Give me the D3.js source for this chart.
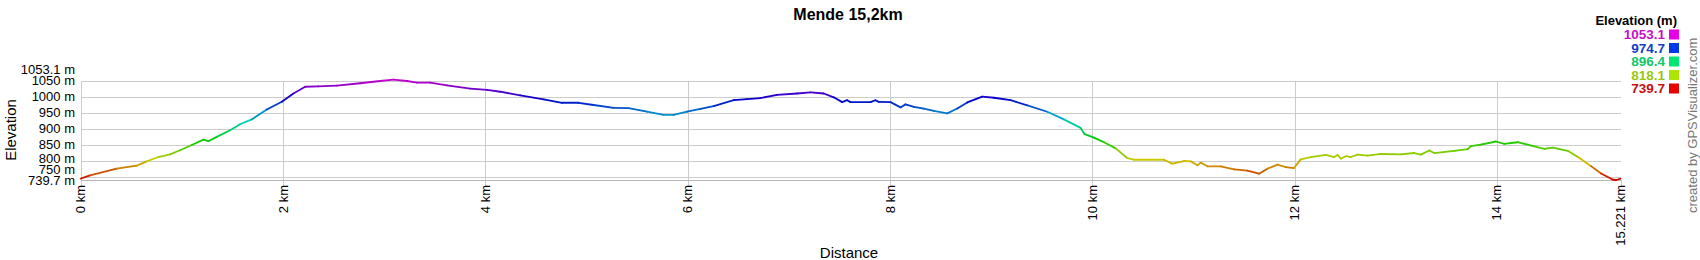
<!DOCTYPE html>
<html>
<head>
<meta charset="utf-8">
<script src="https://cdn.jsdelivr.net/npm/d3@7"></script>
<style>
  body { margin: 0; background: #fff; }
  svg { display: block; font-family: "Liberation Sans", Arial, sans-serif; }
  .grid line { stroke: #cccccc; stroke-width: 1; shape-rendering: crispEdges; }
  .tick-label { fill: #000; font-size: 13px; }
</style>
</head>
<body>
<svg id="chart" width="1700" height="260"></svg>
<script>
'use strict';

// track profile: distance (km) and elevation (m)
let distKm = [
  0.000, 0.092, 0.356, 0.554, 0.653, 0.768, 0.883, 0.982, 1.098, 1.213,
  1.262, 1.345, 1.477, 1.576, 1.691, 1.840, 1.988, 2.103, 2.219, 2.350,
  2.532, 2.763, 2.961, 3.092, 3.225, 3.323, 3.455, 3.620, 3.851, 4.016,
  4.147, 4.345, 4.576, 4.758, 4.922, 5.070, 5.268, 5.416, 5.598, 5.763,
  5.861, 5.994, 6.125, 6.257, 6.455, 6.588, 6.719, 6.884, 7.082, 7.214,
  7.345, 7.444, 7.527, 7.577, 7.609, 7.807, 7.856, 7.889, 8.005, 8.104,
  8.153, 8.236, 8.334, 8.433, 8.566, 8.665, 8.764, 8.912, 9.027, 9.192,
  9.357, 9.555, 9.719, 9.884, 9.924, 10.016, 10.115, 10.231, 10.346, 10.412,
  10.708, 10.791, 10.906, 10.972, 11.039, 11.071, 11.138, 11.269, 11.401, 11.533,
  11.648, 11.731, 11.830, 11.912, 11.994, 12.060, 12.159, 12.308, 12.390, 12.424,
  12.456, 12.506, 12.555, 12.622, 12.721, 12.852, 13.050, 13.181, 13.248, 13.330,
  13.379, 13.577, 13.710, 13.742, 13.841, 13.990, 14.072, 14.204, 14.369, 14.468,
  14.551, 14.699, 14.798, 14.930, 15.029, 15.145, 15.178, 15.221
];
let elevM = [
  744.0, 754.0, 775.0, 784.5, 798.0, 811.5, 820.0, 832.6, 849.0, 866.0,
  861.0, 874.5, 895.0, 914.0, 929.0, 960.0, 984.0, 1010.0, 1031.0, 1032.4,
  1034.3, 1042.0, 1049.0, 1053.1, 1049.0, 1044.0, 1044.0, 1035.6, 1025.0, 1021.0,
  1015.5, 1004.0, 991.6, 981.0, 981.0, 974.0, 965.0, 964.0, 953.0, 943.0,
  943.0, 953.0, 962.0, 970.6, 989.0, 992.5, 995.7, 1006.0, 1010.0, 1013.6,
  1010.0, 998.0, 983.0, 989.0, 983.0, 983.0, 989.0, 984.0, 983.0, 966.5,
  976.0, 968.4, 963.0, 956.0, 947.7, 963.0, 982.0, 1000.0, 996.7, 989.0,
  973.0, 953.0, 929.0, 902.5, 883.0, 872.0, 857.5, 838.6, 808.0, 803.0,
  803.0, 790.8, 799.0, 798.0, 785.5, 794.0, 782.4, 782.4, 773.0, 769.0,
  759.4, 775.0, 787.7, 780.0, 777.0, 804.0, 811.5, 818.0, 811.5, 818.0,
  806.6, 814.0, 811.5, 819.0, 816.0, 821.0, 820.0, 824.0, 819.0, 832.0,
  824.0, 831.0, 836.0, 845.6, 850.0, 860.0, 852.6, 857.7, 845.0, 837.0,
  841.0, 831.0, 812.0, 783.0, 760.0, 741.0, 739.7, 744.0
];

let xTickValues = [0, 2, 4, 6, 8, 10, 12, 14, 15.221],
    xTickLabels = ["0 km", "2 km", "4 km", "6 km", "8 km", "10 km", "12 km", "14 km", "15.221 km"],
    yGridValues = [750, 800, 850, 900, 950, 1000, 1050],
    yTickValues = [739.7, 750, 800, 850, 900, 950, 1000, 1050, 1053.1],
    legendValues = [1053.1, 974.7, 896.4, 818.1, 739.7];

let titleText = "Mende 15,2km",
    xTitle = "Distance",
    yTitle = "Elevation",
    legendTitle = "Elevation (m)",
    creditText = "created by GPSVisualizer.com";

let svg = d3.select("#chart");

let x = d3.scaleLinear().domain([0, 15.221]).range([80.7, 1620.5]),
    y = d3.scaleLinear().domain([739.7, 1053.1]).range([180, 79.7]),
    hue = d3.scaleLinear().domain([739.7, 1053.1]).range([0, 300]);

function lineColor(e) { return d3.hsl(hue(e), 1, 0.40).toString(); }
function swatchColor(e) { return d3.hsl(hue(e), 1, 0.45).toString(); }
function textColor(e) { return d3.hsl(hue(e), 0.85, 0.42).toString(); }

// title
svg.append("text")
    .attr("x", 848)
    .attr("y", 20)
    .attr("text-anchor", "middle")
    .style("font-size", "16px")
    .style("font-weight", "bold")
    .text(titleText);

// grid
let grid = svg.append("g").attr("class", "grid");
grid.selectAll(".hgrid")
    .data(yGridValues)
  .enter().append("line")
    .attr("class", "hgrid")
    .attr("x1", x(0))
    .attr("x2", x(15.221))
    .attr("y1", function(d) { return Math.round(y(d)) + 0.5; })
    .attr("y2", function(d) { return Math.round(y(d)) + 0.5; });
grid.selectAll(".vgrid")
    .data(xTickValues.slice(0, -1))
  .enter().append("line")
    .attr("class", "vgrid")
    .attr("x1", function(d) { return Math.round(x(d)) + 0.5; })
    .attr("x2", function(d) { return Math.round(x(d)) + 0.5; })
    .attr("y1", y(1050))
    .attr("y2", y(739.7) + 6);
grid.append("line")
    .attr("x1", Math.round(x(15.221)) + 0.5)
    .attr("x2", Math.round(x(15.221)) + 0.5)
    .attr("y1", y(739.7))
    .attr("y2", y(739.7) + 6);
grid.append("line")
    .attr("x1", x(0))
    .attr("x2", x(15.221))
    .attr("y1", Math.round(y(739.7)) + 0.5)
    .attr("y2", Math.round(y(739.7)) + 0.5)
    .style("stroke", "#b8b8b8");

// y tick labels, pushed apart from the bottom up so they don't collide
let gap = 11, prev = Infinity;
let yLabels = yTickValues.map(function(v) {
  let pos = Math.min(y(v), prev - gap);
  prev = pos;
  return { v: v, pos: pos };
});
svg.append("g").selectAll("text")
    .data(yLabels)
  .enter().append("text")
    .attr("class", "tick-label")
    .attr("x", 75)
    .attr("y", function(d) { return d.pos; })
    .attr("dy", "0.35em")
    .attr("text-anchor", "end")
    .text(function(d) { return d.v + " m"; });

// x tick labels (rotated)
svg.append("g").selectAll("text")
    .data(xTickValues)
  .enter().append("text")
    .attr("class", "tick-label")
    .attr("transform", function(d) { return "translate(" + (x(d) + 4.5) + "," + 185 + ") rotate(-90)"; })
    .attr("text-anchor", "end")
    .text(function(d, i) { return xTickLabels[i]; });

// axis titles
svg.append("text")
    .attr("x", 849)
    .attr("y", 258)
    .attr("text-anchor", "middle")
    .style("font-size", "15px")
    .text(xTitle);
svg.append("text")
    .attr("transform", "translate(16,130) rotate(-90)")
    .attr("text-anchor", "middle")
    .style("font-size", "15px")
    .text(yTitle);

// profile, one segment per pair of points coloured by elevation
let pts = distKm.map(function(d, i) { return { d: d, e: elevM[i] }; });
let segs = d3.pairs(pts);
svg.append("g").selectAll("line")
    .data(segs)
  .enter().append("line")
    .attr("x1", function(s) { return x(s[0].d); })
    .attr("y1", function(s) { return y(s[0].e); })
    .attr("x2", function(s) { return x(s[1].d); })
    .attr("y2", function(s) { return y(s[1].e); })
    .attr("stroke-width", 1.8)
    .attr("stroke-linecap", "round")
    .attr("stroke", function(s) { return lineColor((s[0].e + s[1].e) / 2); });

// legend
let legend = svg.append("g");
legend.append("text")
    .attr("x", 1677)
    .attr("y", 25)
    .attr("text-anchor", "end")
    .style("font-size", "13px")
    .style("font-weight", "bold")
    .text(legendTitle);
let rows = legend.selectAll(".row")
    .data(legendValues)
  .enter().append("g")
    .attr("class", "row")
    .attr("transform", function(d, i) { return "translate(0," + (34.5 + i * 13.5) + ")"; });
rows.append("text")
    .attr("x", 1665)
    .attr("dy", "0.36em")
    .attr("text-anchor", "end")
    .style("font-size", "13.5px")
    .style("font-weight", "bold")
    .style("fill", textColor)
    .text(function(d) { return d.toFixed(1); });
rows.append("rect")
    .attr("x", 1669)
    .attr("y", -5)
    .attr("width", 10)
    .attr("height", 10)
    .style("fill", swatchColor);

// credit
svg.append("text")
    .attr("transform", "translate(1697,213) rotate(-90)")
    .style("font-size", "13px")
    .style("fill", "#777")
    .text(creditText);
</script>
</body>
</html>
